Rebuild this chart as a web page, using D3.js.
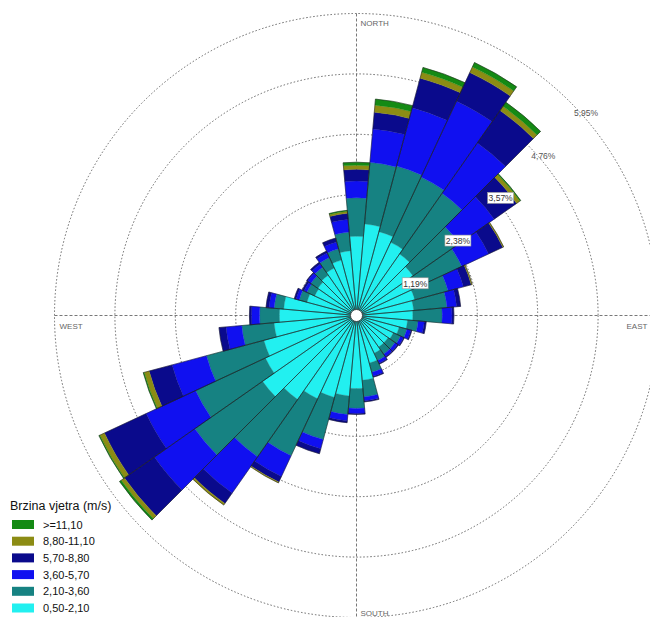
<!DOCTYPE html>
<html>
<head>
<meta charset="utf-8">
<script src="https://cdn.jsdelivr.net/npm/d3@7/dist/d3.min.js"></script>
<style>
    body { margin: 0; background: #ffffff; }
    svg { display: block; font-family: Arial, "Liberation Sans", sans-serif; }
</style>
</head>
<body>
<div class="roseContainer"></div>
<script>
// smjerovi (stupnjevi od sjevera, u smjeru kazaljke)
const directions = [0, 10, 20, 30, 40, 50, 60, 70, 80, 90, 100, 110, 120, 130, 140, 150, 160, 170,
    180, 190, 200, 210, 220, 230, 240, 250, 260, 270, 280, 290, 300, 310, 320, 330, 340, 350];

// učestalost (%) po razredu brzine, od središta prema van
const freq050_210 = [1.56, 1.81, 1.71, 1.59, 1.48, 1.36, 1.26, 1.19, 1.13, 1.11, 1.01, 0.87, 0.80, 0.76, 0.76, 0.82, 0.97, 1.28,
    1.44, 1.59, 1.67, 1.81, 2.02, 2.26, 1.98, 1.89, 1.63, 1.52, 1.44, 1.01, 0.91, 0.93, 0.97, 1.03, 1.13, 1.28];
const freq210_360 = [0.76, 1.22, 1.34, 1.42, 1.46, 1.11, 1.03, 0.68, 0.66, 0.58, 0.21, 0.16, 0.16, 0.17, 0.17, 0.16, 0.19, 0.33,
    0.39, 0.37, 0.86, 1.24, 1.38, 1.63, 1.52, 1.17, 0.64, 0.39, 0.19, 0.16, 0.17, 0.17, 0.19, 0.23, 0.23, 0.37];
const freq360_570 = [0.33, 0.66, 1.19, 1.65, 1.21, 0.84, 0.58, 0.31, 0.19, 0.19, 0.12, 0.08, 0.06, 0.06, 0.06, 0.06, 0.08, 0.08,
    0.10, 0.12, 0.19, 0.45, 0.87, 0.97, 1.07, 0.70, 0.31, 0.16, 0.10, 0.06, 0.06, 0.08, 0.08, 0.10, 0.14, 0.25];
const freq570_880 = [0.23, 0.33, 0.60, 0.62, 0.78, 0.54, 0.31, 0.16, 0.08, 0.04, 0.04, 0.02, 0.02, 0.02, 0.02, 0.02, 0.02, 0.02,
    0.02, 0.04, 0.10, 0.12, 0.25, 0.72, 0.91, 0.47, 0.14, 0.04, 0.06, 0.04, 0.04, 0.02, 0.04, 0.04, 0.08, 0.12];
const freq880_1110 = [0.08, 0.14, 0.12, 0.12, 0.10, 0.08, 0.02, 0.02, 0, 0, 0, 0, 0, 0, 0, 0, 0, 0,
    0, 0, 0, 0.02, 0.04, 0.08, 0.10, 0.10, 0, 0, 0, 0, 0, 0, 0, 0, 0, 0.04];
const freq1110 = [0.06, 0.12, 0.10, 0.10, 0.10, 0.02, 0, 0, 0, 0, 0, 0, 0, 0, 0, 0, 0, 0,
    0, 0, 0, 0, 0, 0.04, 0.02, 0.02, 0, 0, 0, 0, 0, 0, 0, 0, 0, 0.02];

// razredi brzine (legenda, od središta prema van)
const speedLabels = ['0,50-2,10', '2,10-3,60', '3,60-5,70', '5,70-8,80', '8,80-11,10', '>=11,10'];
const legendTitle = 'Brzina vjetra (m/s)';

// kružnice mreže
const ringTicks = [1.19, 2.38, 3.57, 4.76, 5.95];
const ringLabels = ['1,19%', '2,38%', '3,57%', '4,76%', '5,95%'];

// strane svijeta
const compassLabels = ['NORTH', 'EAST', 'SOUTH', 'WEST'];

// --- izgled ---
const width = 650, height = 617;
const cx = 356.5, cy = 315.5, outerR = 302;
const colors = ['#22f0f0', '#168282', '#1010f0', '#0a0a8c', '#8c8c14', '#148a14'];
const series = [freq050_210, freq210_360, freq360_570, freq570_880, freq880_1110, freq1110];

const svg = d3.select('.roseContainer')
    .append('svg')
    .attr('width', width)
    .attr('height', height);

const rScale = d3.scaleLinear().domain([0, 5.95]).range([0, outerR]);
const toRad = deg => deg * Math.PI / 180;

const rose = svg.append('g').attr('transform', `translate(${cx},${cy})`);

// mreža: točkaste kružnice
rose.append('g')
    .selectAll('circle')
    .data(ringTicks)
    .enter()
    .append('circle')
    .attr('r', d => rScale(d))
    .attr('fill', 'none')
    .attr('stroke', '#666666')
    .attr('stroke-width', 1)
    .attr('stroke-dasharray', '1.5,2');

// osi N-S i W-E
const axisR = rScale(5.95);
rose.append('g')
    .selectAll('line')
    .data([[0, -axisR, 0, axisR], [-axisR, 0, axisR, 0]])
    .enter()
    .append('line')
    .attr('x1', d => d[0]).attr('y1', d => d[1])
    .attr('x2', d => d[2]).attr('y2', d => d[3])
    .attr('stroke', '#555555')
    .attr('stroke-width', 0.8)
    .attr('stroke-dasharray', '3,2');

// naslagani isječci
const stacked = directions.map((dir, i) => {
    let acc = 0;
    const segs = series.map((s, k) => {
        const inner = acc;
        acc += s[i];
        return {dir, k, inner, outer: acc};
    });
    return {dir, segs, total: acc};
});

const arc = d3.arc()
    .startAngle(d => toRad(d.dir - 5))
    .endAngle(d => toRad(d.dir + 5))
    .innerRadius(d => rScale(d.inner))
    .outerRadius(d => rScale(d.outer));

const bars = rose.append('g').attr('class', 'bars');
bars.selectAll('g')
    .data(stacked)
    .enter()
    .append('g')
    .selectAll('path')
    .data(d => d.segs.filter(s => s.outer > s.inner))
    .enter()
    .append('path')
    .attr('d', arc)
    .attr('fill', d => colors[d.k])
    .attr('stroke', d => colors[d.k])
    .attr('stroke-width', 0.3);

// obrub svakog isječka
bars.selectAll('path.outline')
    .data(stacked)
    .enter()
    .append('path')
    .attr('class', 'outline')
    .attr('d', d => arc({dir: d.dir, inner: 0, outer: d.total}))
    .attr('fill', 'none')
    .attr('stroke', '#1a1a1a')
    .attr('stroke-width', 0.6)
    .attr('stroke-opacity', 0.85);

// središnji krug
rose.append('circle')
    .attr('r', 6)
    .attr('fill', '#ffffff')
    .attr('stroke', '#333333')
    .attr('stroke-width', 0.8);

// oznake kružnica
const ringG = rose.append('g')
    .selectAll('g')
    .data(ringTicks)
    .enter()
    .append('g')
    .attr('transform', d => {
        const p = rScale(d) * Math.SQRT1_2;
        return `translate(${p + 16},${-p + 11})`;
    });
ringG.filter((d, i) => i < 3)
    .append('rect')
    .attr('x', -13).attr('y', -6)
    .attr('width', 26).attr('height', 11)
    .attr('fill', '#ffffff')
    .attr('stroke', '#999999')
    .attr('stroke-width', 0.6);
ringG.append('text')
    .attr('text-anchor', 'middle')
    .attr('y', 3)
    .style('font-size', '8.5px')
    .attr('fill', (d, i) => i < 3 ? '#333333' : '#555555')
    .text((d, i) => ringLabels[i]);

// strane svijeta
const compassPos = [
    [4, -outerR + 12],
    [outerR - 32, 13],
    [4, outerR - 2],
    [-outerR + 5, 13]
];
rose.append('g')
    .selectAll('text')
    .data(compassLabels)
    .enter()
    .append('text')
    .attr('x', (d, i) => compassPos[i][0])
    .attr('y', (d, i) => compassPos[i][1])
    .style('font-size', '8px')
    .attr('fill', '#666666')
    .text(d => d);

// legenda
const legend = svg.append('g').attr('transform', 'translate(10,510)');
legend.append('text')
    .style('font-size', '12.5px')
    .attr('fill', '#111111')
    .text(legendTitle);

const legendItems = legend.selectAll('g.item')
    .data(speedLabels.map((l, k) => ({l, k})).reverse())
    .enter()
    .append('g')
    .attr('class', 'item')
    .attr('transform', (d, i) => `translate(2,${10 + i * 16.7})`);
legendItems.append('rect')
    .attr('width', 22).attr('height', 9)
    .attr('fill', d => colors[d.k]);
legendItems.append('text')
    .attr('x', 31).attr('y', 8.5)
    .style('font-size', '11px')
    .attr('fill', '#111111')
    .text(d => d.l);
</script>
</body>
</html>
